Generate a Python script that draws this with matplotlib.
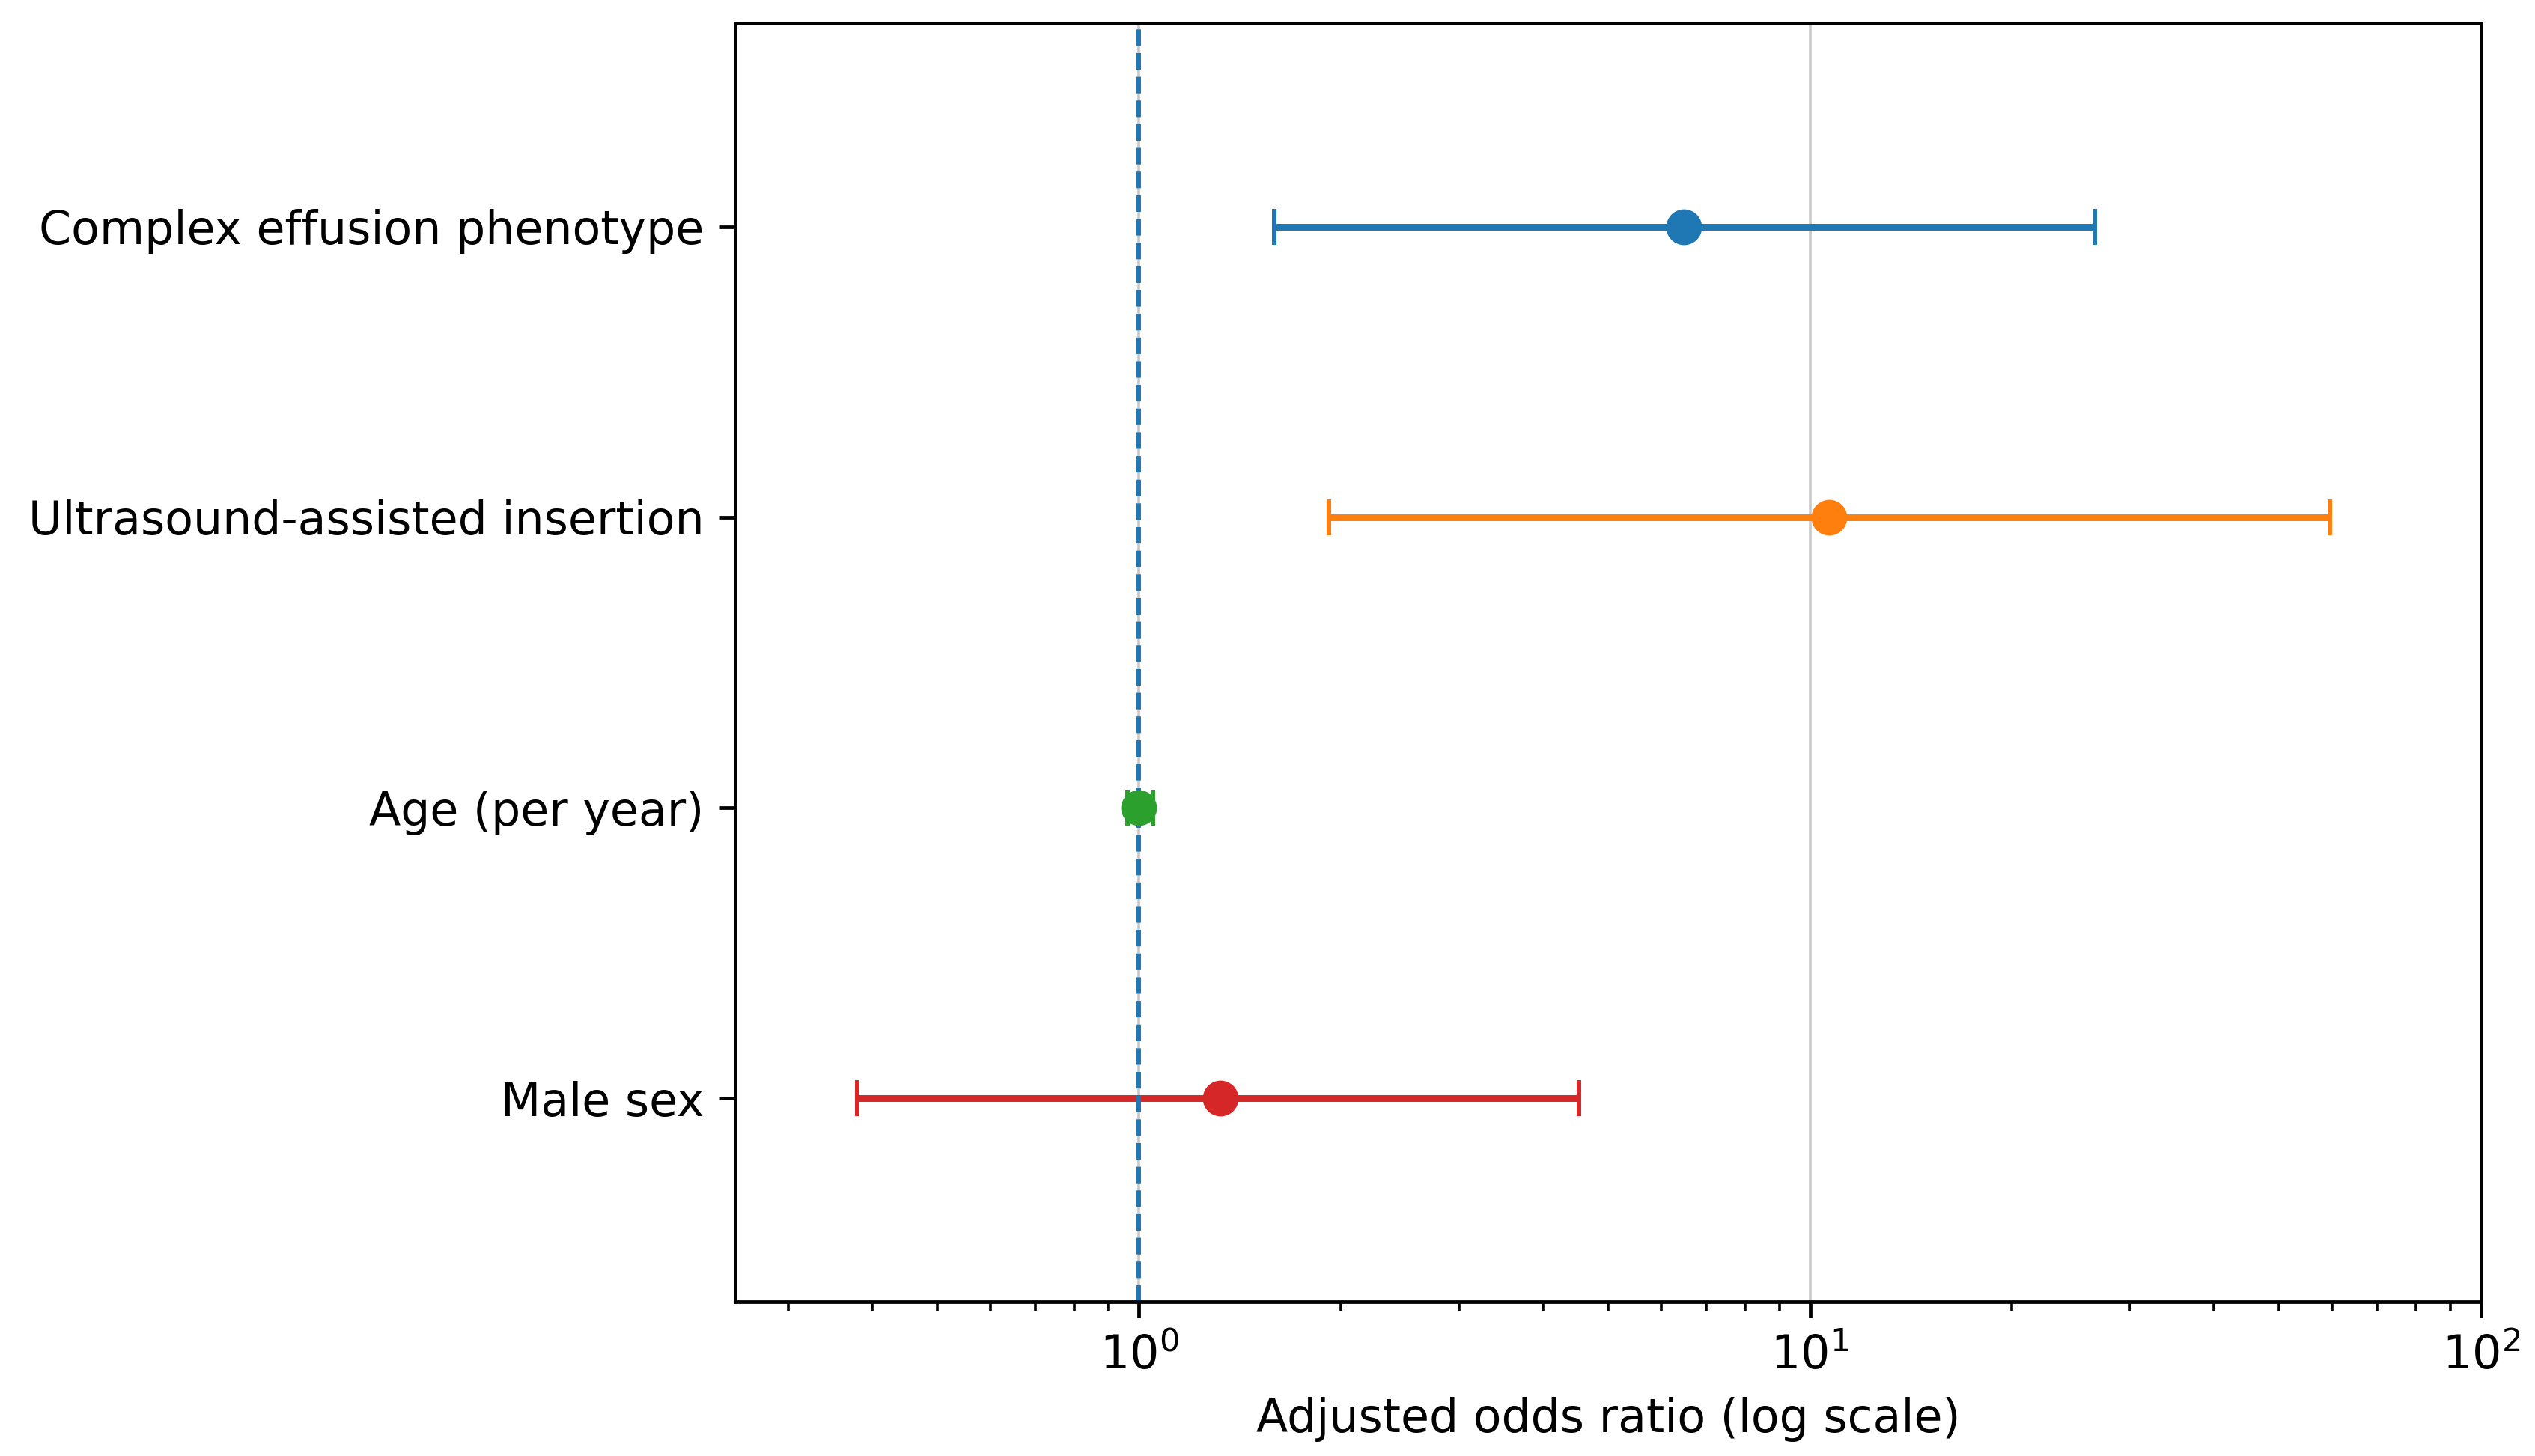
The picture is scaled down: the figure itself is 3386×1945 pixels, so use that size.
import numpy as np
import matplotlib
matplotlib.use('Agg')
import matplotlib.pyplot as plt

# forest plot data (adjusted odds ratios with 95% CI)
labels = ['Complex effusion phenotype', 'Ultrasound-assisted insertion',
          'Age (per year)', 'Male sex']
odds = [6.48, 10.67, 1.0, 1.32]
ci_low = [1.59, 1.92, 0.96, 0.38]
ci_high = [26.6, 59.5, 1.05, 4.52]
colors = ['tab:blue', 'tab:orange', 'tab:green', 'tab:red']

plt.rcParams['font.size'] = 10.35

dpi = 430
fig = plt.figure(figsize=(3386/dpi, 1945/dpi), dpi=dpi)
ax = fig.add_axes([0.2900, 0.1059, 0.6887, 0.8781])

ypos = np.arange(len(labels))
for i in range(len(labels)):
    err = [[odds[i] - ci_low[i]], [ci_high[i] - odds[i]]]
    ax.errorbar(odds[i], ypos[i], xerr=err, fmt='o', color=colors[i],
                markersize=7, capsize=4, elinewidth=1.5)

ax.axvline(1, linestyle='--', linewidth=1)
ax.set_xscale('log')
ax.set_xlim(0.25, 100)
ax.set_ylim(-0.7, 3.7)
ax.invert_yaxis()
ax.set_yticks(ypos)
ax.set_yticklabels(labels)
ax.grid(True, axis='x', which='major', linewidth=0.6, color='#c8c8c8')
ax.set_axisbelow(True)
ax.set_xlabel('Adjusted odds ratio (log scale)')

fig.savefig('out.png', dpi=dpi)
